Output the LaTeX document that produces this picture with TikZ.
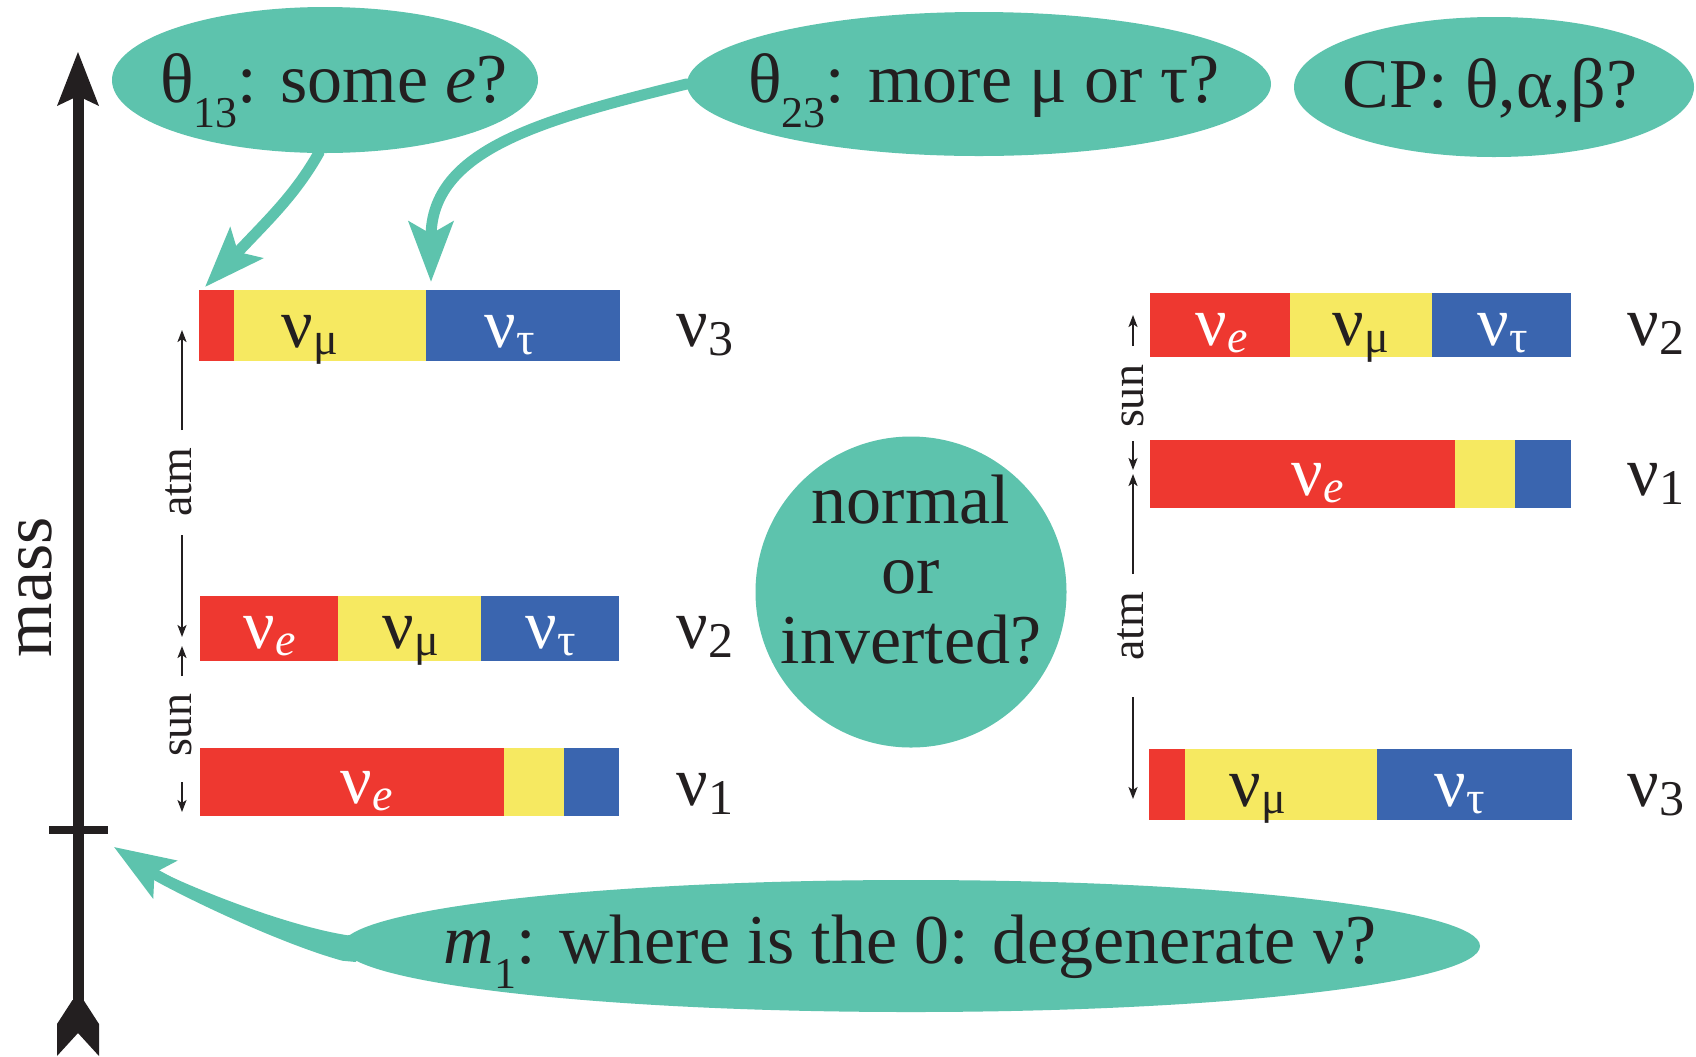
\documentclass[tikz,border=0pt]{standalone}
\usepackage{fontspec}
\setmainfont{Liberation Serif}
\usetikzlibrary{arrows.meta,shapes.geometric,calc}
\pgfdeclarelayer{bg}
\pgfdeclarelayer{conn}
\pgfsetlayers{bg,conn,main}
\definecolor{nured}{RGB}{238,56,48}
\definecolor{nuyel}{RGB}{246,233,97}
\definecolor{nublu}{RGB}{58,101,175}
\definecolor{bubc}{RGB}{93,195,173}
\definecolor{ink}{RGB}{35,31,32}
\newcommand\bsub[1]{\raisebox{-3.5pt}{\fontsize{23}{23}\selectfont #1}}
\newcommand\lsub[1]{\raisebox{-4.5pt}{\fontsize{25}{25}\selectfont #1}}
\newcommand\tsub[1]{\raisebox{-12.5pt}{\fontsize{22}{22}\selectfont #1}}
\tikzset{
 big/.style={font=\fontsize{35}{35}\selectfont},
 small/.style={font=\fontsize{23}{23}\selectfont},
 txt/.style={inner sep=0pt, anchor=base, text=ink, big},
 wtxt/.style={txt, text=white},
 bubble/.style={ellipse, fill=bubc, inner sep=0pt},
 pointer/.style={draw=bubc, line width=5.5pt, -{Stealth[length=30pt,width=22pt,inset=6pt]}},
 gap/.style={draw=ink, line width=1pt, -{Stealth[length=6pt,width=4.5pt,inset=1.5pt]}},
 gaplabel/.style={inner sep=0pt, anchor=base, rotate=90, text=ink, small},
}
\begin{document}
\begin{tikzpicture}[x=0.5pt,y=-0.5pt]
\begin{pgfonlayer}{bg}
\fill[white] (0,0) rectangle (1696,1056);
\end{pgfonlayer}
\useasboundingbox (0,0) rectangle (1696,1056);

% mass axis
\fill[ink] (72.5,96) rectangle (83.5,1004);
\fill[ink] (78,52) -- (99,106) -- (78,96) -- (57,106) -- cycle;
\fill[ink] (72.5,1000) -- (57,1024) -- (57,1056) -- (78,1033) -- (99,1056) -- (99,1024) -- (83.5,1000) -- cycle;
\fill[ink] (49,826) rectangle (108,834);
\node[gaplabel, big] (mass) at (51,587) {mass};

% free ends
\coordinate (t13tip) at (205,287);
\coordinate (t23tip) at (431,282);
\coordinate (m1tip) at (114,847);

% left: nu3
\fill[nured] (199,290) rectangle (234,361);
\fill[nuyel] (234,290) rectangle (426,361);
\fill[nublu] (426,290) rectangle (620,361);
\node[txt] (l3mu) at (310,347) {ν\bsub{μ}};
\node[wtxt] (l3tau) at (510,347) {ν\bsub{τ}};
\node[txt, anchor=base west] (l3) at (676,346) {ν\lsub{3}};
% left: nu2
\fill[nured] (200,596) rectangle (338,661);
\fill[nuyel] (338,596) rectangle (481,661);
\fill[nublu] (481,596) rectangle (619,661);
\node[wtxt] (l2e) at (270,648) {ν\bsub{\textit{e}}};
\node[txt] (l2mu) at (411,648) {ν\bsub{μ}};
\node[wtxt] (l2tau) at (551,648) {ν\bsub{τ}};
\node[txt, anchor=base west] (l2) at (676,648) {ν\lsub{2}};
% left: nu1
\fill[nured] (200,748) rectangle (504,816);
\fill[nuyel] (504,748) rectangle (564,816);
\fill[nublu] (564,748) rectangle (619,816);
\node[wtxt] (l1e) at (367,803) {ν\bsub{\textit{e}}};
\node[txt, anchor=base west] (l1) at (676,805) {ν\lsub{1}};

% right: nu2
\fill[nured] (1150,293) rectangle (1290,357);
\fill[nuyel] (1290,293) rectangle (1432,357);
\fill[nublu] (1432,293) rectangle (1571,357);
\node[wtxt] (r2e) at (1222,345) {ν\bsub{\textit{e}}};
\node[txt] (r2mu) at (1361,345) {ν\bsub{μ}};
\node[wtxt] (r2tau) at (1503,345) {ν\bsub{τ}};
\node[txt, anchor=base west] (r2) at (1627,345) {ν\lsub{2}};
% right: nu1
\fill[nured] (1150,440) rectangle (1455,508);
\fill[nuyel] (1455,440) rectangle (1515,508);
\fill[nublu] (1515,440) rectangle (1571,508);
\node[wtxt] (r1e) at (1318,495) {ν\bsub{\textit{e}}};
\node[txt, anchor=base west] (r1) at (1627,495) {ν\lsub{1}};
% right: nu3
\fill[nured] (1149,749) rectangle (1185,820);
\fill[nuyel] (1185,749) rectangle (1377,820);
\fill[nublu] (1377,749) rectangle (1572,820);
\node[txt] (r3mu) at (1258,806) {ν\bsub{μ}};
\node[wtxt] (r3tau) at (1460,806) {ν\bsub{τ}};
\node[txt, anchor=base west] (r3) at (1627,806) {ν\lsub{3}};

% splitting arrows, left
\path (182,330) coordinate (la0) (182,430) coordinate (la1)
      (182,535) coordinate (la2) (182,637) coordinate (la3)
      (182,646) coordinate (ls0) (182,676) coordinate (ls1)
      (182,782) coordinate (ls2) (182,812) coordinate (ls3);
\draw[gap] (la1) -- (la0);
\draw[gap] (la2) -- (la3);
\draw[gap] (ls1) -- (ls0);
\draw[gap] (ls2) -- (ls3);
\node[gaplabel] (latm) at (191,482) {atm};
\node[gaplabel] (lsun) at (191,725) {sun};
% splitting arrows, right
\path (1133,315) coordinate (rs0) (1133,346) coordinate (rs1)
      (1133,441) coordinate (rs2) (1133,470) coordinate (rs3)
      (1133,474) coordinate (ra0) (1133,574) coordinate (ra1)
      (1133,697) coordinate (ra2) (1133,799) coordinate (ra3);
\draw[gap] (rs1) -- (rs0);
\draw[gap] (rs2) -- (rs3);
\draw[gap] (ra1) -- (ra0);
\draw[gap] (ra2) -- (ra3);
\node[gaplabel] (rsun) at (1143,396) {sun};
\node[gaplabel] (ratm) at (1143,626) {atm};

% bubbles
\node[bubble, minimum width=213pt, minimum height=73pt] (e13) at (325,80) {};
\node[txt] (t13) at (334,102) {θ\tsub{13}: some \textit{e}?};
\node[bubble, minimum width=292pt, minimum height=72pt] (e23) at (979,84) {};
\node[txt] (t23) at (984,102) {θ\tsub{23}: more μ or τ?};
\node[bubble, minimum width=200pt, minimum height=70pt] (ecp) at (1494,87) {};
\node[txt] (tcp) at (1490,107) {CP: θ,α,β?};
\node[bubble, minimum width=569pt, minimum height=66pt] (em1) at (911,946) {};
\node[txt] (tm1) at (910,963) {\textit{m}\tsub{1}: where is the 0: degenerate ν?};
\node[circle, fill=bubc, inner sep=0pt, minimum size=155.5pt] (q) at (911,592) {};
\node[txt, anchor=north, align=center] (qt) at (911,475) {normal\\or\\inverted?};

% pointers
\begin{pgfonlayer}{conn}
\draw[pointer] ($(e13.265)+(0,-12)$) -- (e13.265) .. controls (295,195) and (268,220) .. (t13tip);
\draw[pointer] ($(e23.west)+(20,0)$) -- (e23.west) .. controls (540,120) and (431,150) .. (t23tip);
\draw[pointer, line width=4.5pt] ($(em1.west)+(20,0)$) -- (em1.west) .. controls (280,934) and (180,889) .. (m1tip);
\fill[bubc] (356,934) -- (347.7,935.3) .. controls (282,925) and (183,884) .. (153,868)
  -- (147,876) .. controls (177,894) and (278,943) .. (342.3,960.7) -- (356,962) -- cycle;
\end{pgfonlayer}
\end{tikzpicture}
\end{document}
